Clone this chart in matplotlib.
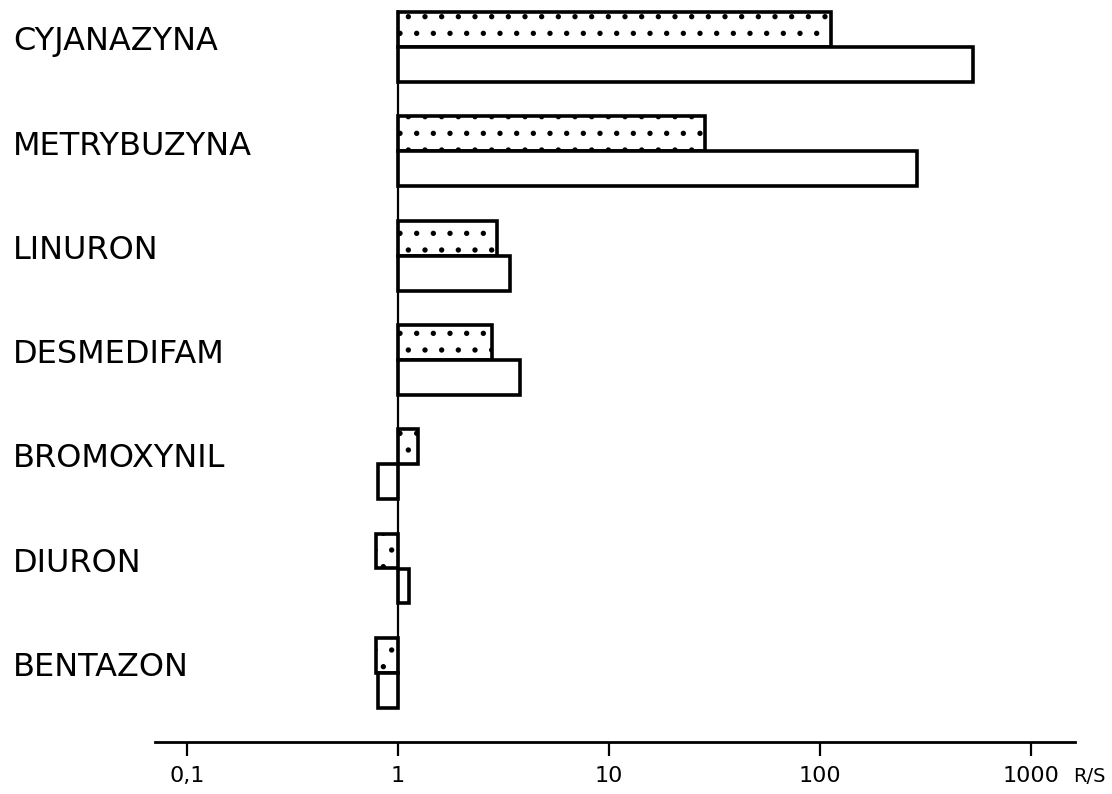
import matplotlib
matplotlib.use("Agg")
import matplotlib.pyplot as plt
import matplotlib.transforms as mtransforms

categories = ["CYJANAZYNA", "METRYBUZYNA", "LINURON", "DESMEDIFAM",
              "BROMOXYNIL", "DIURON", "BENTAZON"]
dotted_vals = [113, 28.5, 2.95, 2.8, 1.24, 0.79, 0.79]
white_vals = [531, 288, 3.4, 3.8, 0.80, 1.13, 0.80]
tick_vals = [0.1, 1, 10, 100, 1000]
tick_labels = ["0,1", "1", "10", "100", "1000"]
unit_label = "R/S"

plt.rcParams['hatch.linewidth'] = 1.4
plt.rcParams['hatch.color'] = 'black'

fig = plt.figure(figsize=(11.12, 7.94), dpi=100)
ax = fig.add_axes([155/1112, 52/794, 920/1112, 742/794])

pos = list(range(len(categories)))
h = 0.335

for i in pos:
    d = dotted_vals[i]
    w = white_vals[i]
    ax.barh(i - h/2, d - 1, left=1, height=h, color='white',
            edgecolor='black', linewidth=2.6, hatch='.')
    ax.barh(i + h/2, w - 1, left=1, height=h, color='white',
            edgecolor='black', linewidth=2.6)

ax.set_xscale('log')
ax.set_xlim(10**((155-398)/211), 10**((1075-398)/211))
ax.set_ylim((742-47)/104.3, (0-47)/104.3)

ax.vlines(1, (10-47)/104.3, pos[-1] + h, color='black', linewidth=1.6, zorder=3)

for s in ['top', 'left', 'right']:
    ax.spines[s].set_visible(False)
ax.spines['bottom'].set_linewidth(2.0)
ax.set_yticks([])
ax.set_xticks(tick_vals)
ax.set_xticklabels(tick_labels, fontsize=16)
ax.minorticks_off()
ax.tick_params(axis='x', direction='out', length=10, width=1.6, pad=7)

trans = mtransforms.blended_transform_factory(fig.transFigure, ax.transData)
for i, name in zip(pos, categories):
    ax.text(13/1112, i - 0.05, name, transform=trans, ha='left', va='center',
            fontsize=23, fontfamily='DejaVu Sans', clip_on=False)

ax.text((1073-155)/920, -(777-742)/742, unit_label, transform=ax.transAxes,
        ha='left', va='center', fontsize=14, clip_on=False)

fig.savefig("out.png", dpi=100)
